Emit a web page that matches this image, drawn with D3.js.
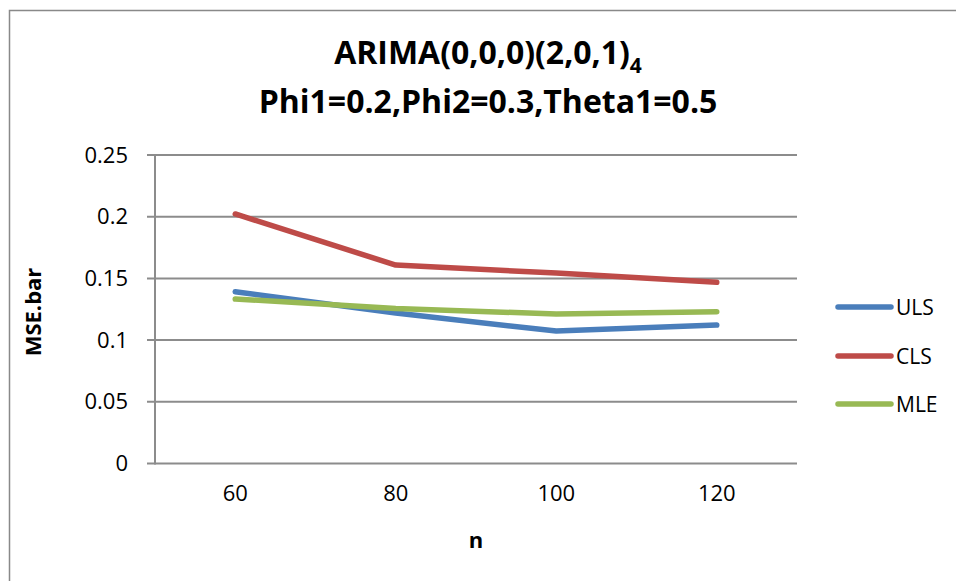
<!DOCTYPE html>
<html><head><meta charset="utf-8">
<script src="https://cdn.jsdelivr.net/npm/d3@7"></script>
<style>body{margin:0;background:#fff}svg{display:block}text{font-family:"Open Sans",sans-serif}</style>
</head><body>
<script>
const categories = ["60","80","100","120"];
const seriesNames = ["ULS","CLS","MLE"];
const ULS = [0.1392, 0.1219, 0.1073, 0.1122];
const CLS = [0.2022, 0.1608, 0.1543, 0.1468];
const MLE = [0.1333, 0.1257, 0.1211, 0.1230];
const yTicks = [0, 0.05, 0.1, 0.15, 0.2, 0.25];
const yTickLabels = ["0","0.05","0.1","0.15","0.2","0.25"];
const colors = ["#4A7EBB","#BE4B48","#98B954"];
const seriesData = [ULS, CLS, MLE];

const W = 956, H = 581;
const svg = d3.select("body").append("svg").attr("width", W).attr("height", H);
// chart border
svg.append("rect").attr("x",9.5).attr("y",10.5).attr("width",W+20).attr("height",H+20)
  .attr("fill","none").attr("stroke","#898989").attr("stroke-width",1.5);

const plot = {left:155, right:797, top:155, bottom:463.5};
const x = d3.scaleBand().domain(categories).range([plot.left, plot.right]);
const y = d3.scaleLinear().domain([0,0.25]).range([plot.bottom, plot.top]);

// gridlines
svg.append("g").selectAll("line").data(yTicks).join("line")
  .attr("x1",147).attr("x2",plot.right).attr("y1",d=>y(d)).attr("y2",d=>y(d))
  .attr("stroke","#8c8c8c").attr("stroke-width",2);
// y axis line
svg.append("line").attr("x1",plot.left).attr("x2",plot.left).attr("y1",plot.top).attr("y2",plot.bottom+1)
  .attr("stroke","#8c8c8c").attr("stroke-width",2);

// y tick labels
const yAxis = d3.axisLeft(y).tickValues(yTicks).tickFormat((d,i)=>yTickLabels[i]).tickSize(0).tickPadding(27);
const gy = svg.append("g").attr("transform",`translate(${plot.left},0)`).call(yAxis);
gy.select(".domain").remove();
gy.selectAll("text").attr("font-size",22).attr("fill","#000").attr("font-family","'Open Sans',sans-serif");

// x tick labels
const xAxis = d3.axisBottom(x).tickSize(0).tickPadding(22);
const gx = svg.append("g").attr("transform",`translate(0,${plot.bottom})`).call(xAxis);
gx.select(".domain").remove();
gx.selectAll("text").attr("font-size",22).attr("fill","#000").attr("font-family","'Open Sans',sans-serif");

// lines
const line = d3.line().x((d,i)=>x(categories[i])+x.bandwidth()/2).y(d=>y(d));
seriesData.forEach((s,k)=>{
  svg.append("path").datum(s).attr("d",line).attr("fill","none")
    .attr("stroke",colors[k]).attr("stroke-width",5.5)
    .attr("stroke-linecap","round").attr("stroke-linejoin","round");
});

// legend
const legY = [307, 356, 404];
seriesNames.forEach((n,k)=>{
  svg.append("line").attr("x1",838).attr("x2",891).attr("y1",legY[k]).attr("y2",legY[k])
    .attr("stroke",colors[k]).attr("stroke-width",5.5).attr("stroke-linecap","round");
  svg.append("text").attr("x",896).attr("y",legY[k]).attr("dy","0.36em")
    .attr("font-size",21).text(n);
});

// title
const t1 = svg.append("text").attr("x",488).attr("y",64).attr("text-anchor","middle")
  .attr("font-size",32).attr("font-weight","bold");
t1.append("tspan").text("ARIMA(0,0,0)(2,0,1)");
t1.append("tspan").attr("font-size",21).attr("dy",9).text("4");
svg.append("text").attr("x",488).attr("y",113).attr("text-anchor","middle")
  .attr("font-size",32).attr("font-weight","bold").text("Phi1=0.2,Phi2=0.3,Theta1=0.5");

// axis titles
svg.append("text").attr("transform","translate(41,312) rotate(-90)").attr("text-anchor","middle")
  .attr("font-size",22).attr("font-weight","bold").text("MSE.bar");
svg.append("text").attr("x",476).attr("y",548).attr("text-anchor","middle")
  .attr("font-size",22).attr("font-weight","bold").text("n");
</script>
</body></html>
